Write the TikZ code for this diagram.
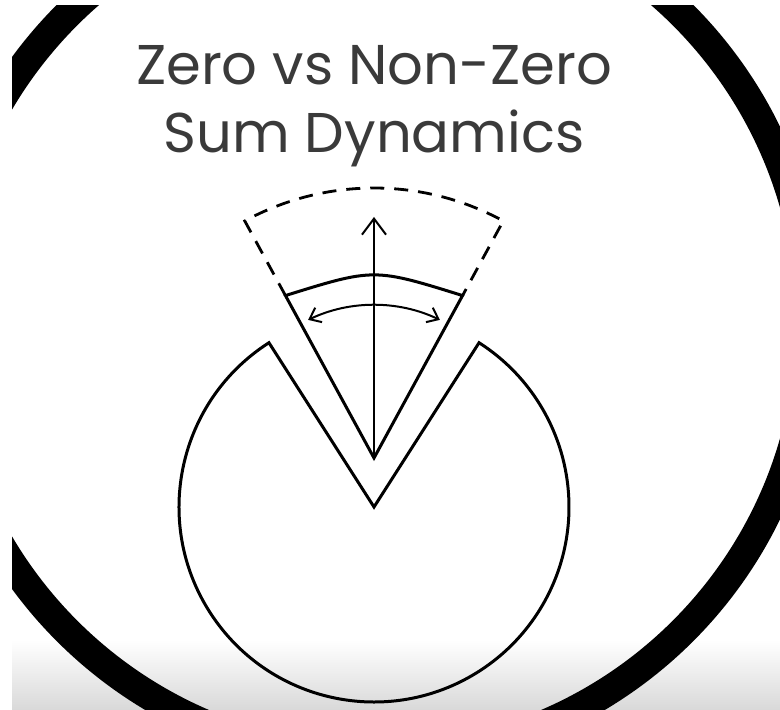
\documentclass[tikz,border=0pt]{standalone}
\usepackage{fontspec}
\newfontfamily\headfont{Poppins}
\usetikzlibrary{arrows.meta,positioning,calc}
\definecolor{inkgray}{HTML}{3A3A3A}

\tikzset{
  headline/.style={font=\headfont\fontsize{28}{34}\selectfont, text=inkgray, inner sep=0pt},
  ring/.style={line width=14.5pt},
  piece/.style={line width=1.5pt, line join=miter},
  ghost/.style={line width=1.4pt, dash pattern=on 7pt off 5pt},
  push/.style={line width=1pt, -{Straight Barb[length=8pt,width=12pt]}},
  swing/.style={line width=1pt, {Straight Barb[length=5pt,width=8pt]}-{Straight Barb[length=5pt,width=8pt]}},
}

\begin{document}
\begin{tikzpicture}[x=0.5pt,y=0.5pt]
\useasboundingbox (0,0) rectangle (780,710);
% shadow at the foot
\shade[top color=white, bottom color=black!15] (12,0) rectangle (780,70);
% big ring, cut by the frame
\begin{scope}
  \clip (12,0) rectangle (780,704);
  \draw[ring] (375,387) circle[radius=435.5];
\end{scope}

\node[headline, anchor=base] (zero) at (374,625) {Zero vs Non-Zero};
\node[headline, anchor=base] (sum) at (374,557) {Sum Dynamics};

% the pie with its gap
\coordinate (pie) at (374,203);
\draw[piece] (pie) -- ++(122.6:195) arc[start angle=122.6, end angle=417.4, radius=195] -- cycle;

% the slice, lifted
\coordinate (tip) at (374,252);
\coordinate (sl) at ($(tip)+(118.6:185)$);
\coordinate (sr) at ($(tip)+(61.4:185)$);
\coordinate (gl) at ($(tip)+(118.6:270)$);
\coordinate (up) at (374,493);
\coordinate (swl) at ($(tip)+(115.5:153)$);
\draw[piece] (tip) -- (sl) .. controls (374,442) .. (sr) -- cycle;
\draw[ghost] (sl) -- (gl) arc[start angle=118.6, end angle=61.4, radius=270] -- (sr);
\draw[push] (tip) -- (up);
\draw[swing] (swl) arc[start angle=115.5, end angle=64.5, radius=153];
\end{tikzpicture}
\end{document}
